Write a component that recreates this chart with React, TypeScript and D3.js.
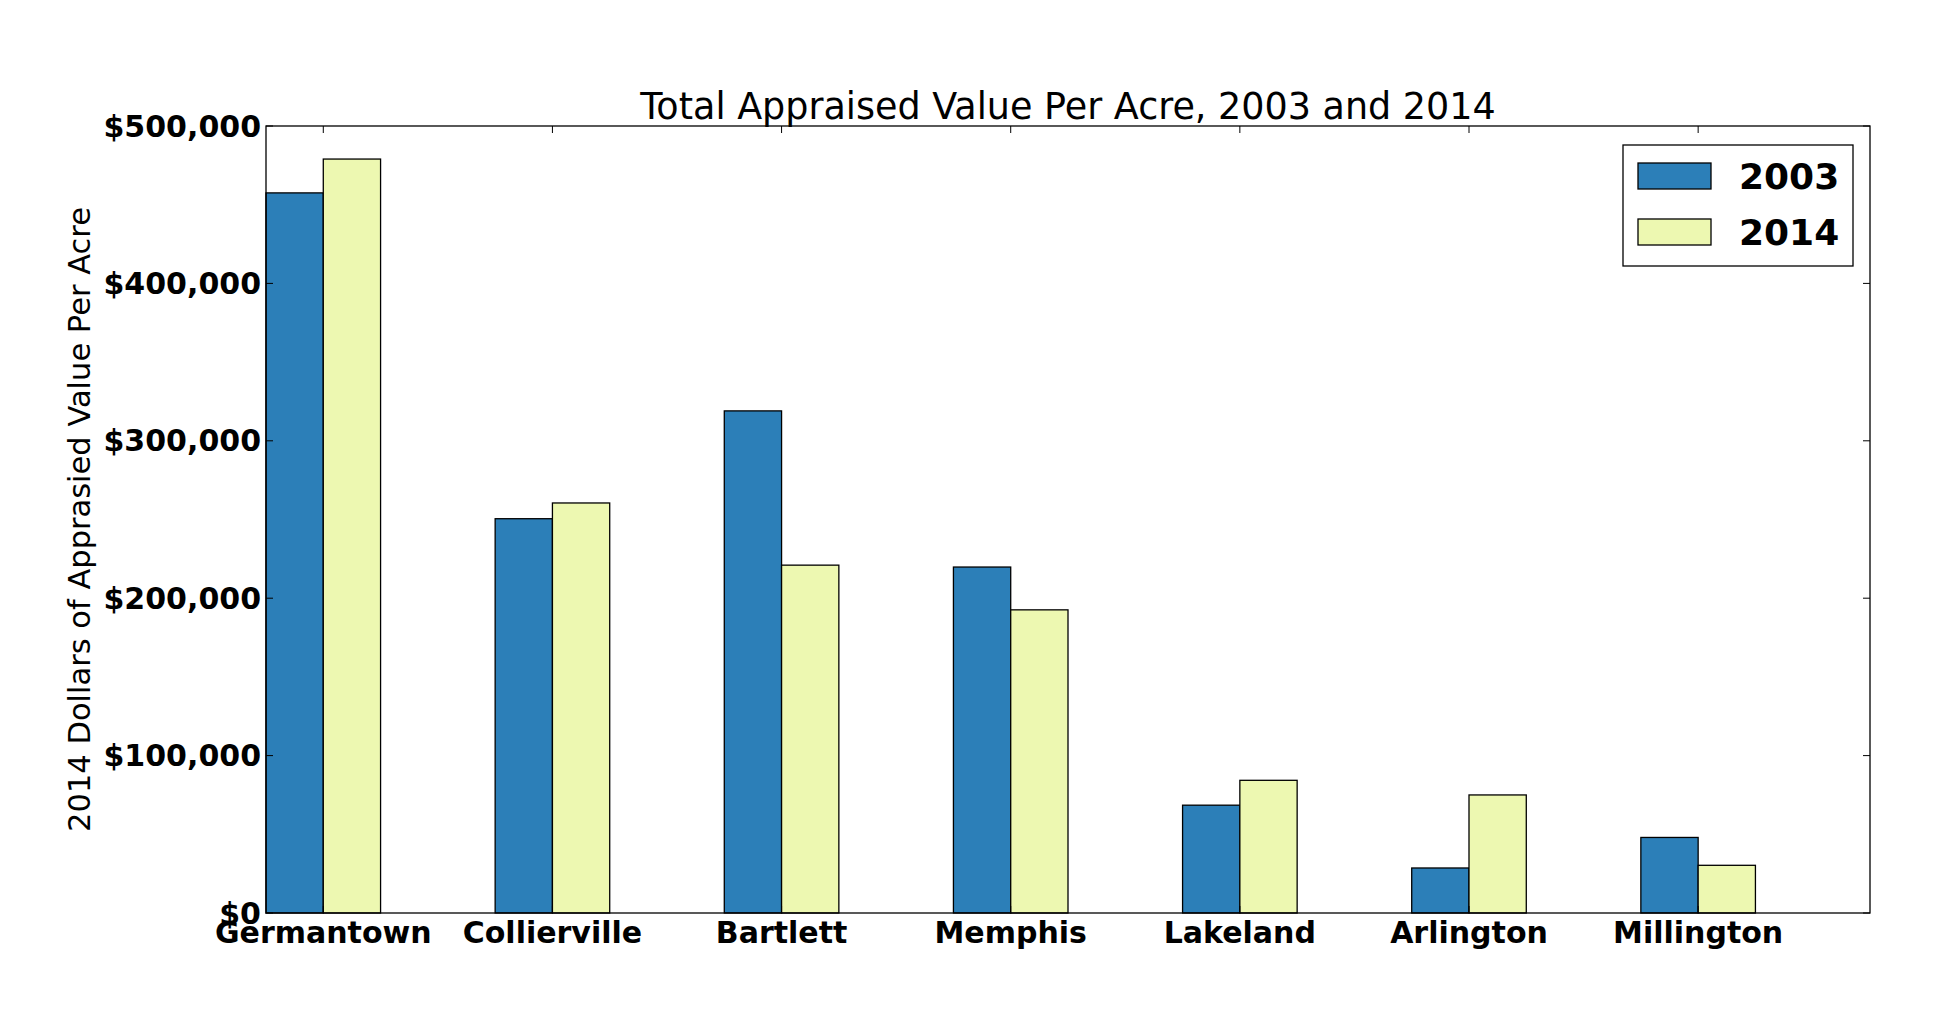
import { useEffect, useRef } from "react";
import * as d3 from "d3";

// Data
const towns = ["Germantown", "Collierville", "Bartlett", "Memphis", "Lakeland", "Arlington", "Millington"];
const values2003 = [457500, 250500, 319000, 219800, 68500, 28600, 48000];
const values2014 = [479000, 260500, 221000, 192600, 84300, 75000, 30300];
const seriesNames = ["2003", "2014"];
const seriesColors = ["#2c7fb8", "#edf8b1"];
const yTicks = [0, 100000, 200000, 300000, 400000, 500000];

const W = 1955;
const H = 1032;

export default function App() {
    const svgRef = useRef<SVGSVGElement | null>(null);

    useEffect(() => {
        if (!svgRef.current) return;
        const svg = d3.select(svgRef.current);
        svg.selectAll("*").remove();

        const margin = { top: 126, right: 85, bottom: 119, left: 266 };
        const width = W - margin.left - margin.right;
        const height = H - margin.top - margin.bottom;
        const font = "'DejaVu Sans', sans-serif";

        const g = svg.append("g").attr("transform", `translate(${margin.left},${margin.top})`);

        // x in category units, like matplotlib's bar positions
        const x = d3.scaleLinear().domain([-0.25, 6.75]).range([0, width]);
        const y = d3.scaleLinear().domain([0, 500000]).range([height, 0]);
        const barW = 0.25;

        const series = [values2003, values2014];
        series.forEach((vals, s) => {
            g.append("g")
                .selectAll("rect")
                .data(vals)
                .enter()
                .append("rect")
                .attr("x", (d, i) => x(i - barW + s * barW))
                .attr("width", x(barW) - x(0))
                .attr("y", d => y(d))
                .attr("height", d => y(0) - y(d))
                .attr("fill", seriesColors[s])
                .attr("stroke", "#000")
                .attr("stroke-width", 1.3);
        });

        // frame
        g.append("rect")
            .attr("width", width)
            .attr("height", height)
            .attr("fill", "none")
            .attr("stroke", "#000")
            .attr("stroke-width", 1.3);

        const tickLen = 7;
        // inside ticks on all four sides
        towns.forEach((t, i) => {
            g.append("line").attr("x1", x(i)).attr("x2", x(i)).attr("y1", height).attr("y2", height - tickLen).attr("stroke", "#000");
            g.append("line").attr("x1", x(i)).attr("x2", x(i)).attr("y1", 0).attr("y2", tickLen).attr("stroke", "#000");
            g.append("text")
                .attr("x", x(i))
                .attr("y", height + 30)
                .attr("text-anchor", "middle")
                .attr("font-family", font)
                .attr("font-weight", "bold")
                .attr("font-size", 30)
                .text(t);
        });

        const fmt = d3.format(",");
        yTicks.forEach(v => {
            g.append("line").attr("x1", 0).attr("x2", tickLen).attr("y1", y(v)).attr("y2", y(v)).attr("stroke", "#000");
            g.append("line").attr("x1", width).attr("x2", width - tickLen).attr("y1", y(v)).attr("y2", y(v)).attr("stroke", "#000");
            g.append("text")
                .attr("x", -5)
                .attr("y", y(v))
                .attr("dy", "0.35em")
                .attr("text-anchor", "end")
                .attr("font-family", font)
                .attr("font-weight", "bold")
                .attr("font-size", 30)
                .text("$" + fmt(v));
        });

        // title
        g.append("text")
            .attr("x", width / 2)
            .attr("y", -7)
            .attr("text-anchor", "middle")
            .attr("font-family", font)
            .attr("font-size", 36.5)
            .text("Total Appraised Value Per Acre, 2003 and 2014");

        // y label
        g.append("text")
            .attr("transform", `translate(${90 - margin.left},${height / 2}) rotate(-90)`)
            .attr("text-anchor", "middle")
            .attr("font-family", font)
            .attr("font-size", 30.5)
            .text("2014 Dollars of Apprasied Value Per Acre");

        // legend
        const lg = svg.append("g").attr("transform", "translate(1623,145)");
        lg.append("rect")
            .attr("width", 230)
            .attr("height", 121)
            .attr("fill", "#fff")
            .attr("stroke", "#000")
            .attr("stroke-width", 1.3);
        seriesNames.forEach((name, i) => {
            const row = lg.append("g").attr("transform", `translate(0,${18 + i * 56})`);
            row.append("rect")
                .attr("x", 15)
                .attr("width", 73)
                .attr("height", 26)
                .attr("fill", seriesColors[i])
                .attr("stroke", "#000")
                .attr("stroke-width", 1.3);
            row.append("text")
                .attr("x", 116)
                .attr("y", 13)
                .attr("dy", "0.35em")
                .attr("font-family", font)
                .attr("font-weight", "bold")
                .attr("font-size", 36)
                .text(name);
        });
    }, []);

    return (
        <div style={{ position: "absolute", left: 0, top: 0 }}>
            <svg ref={svgRef} width={W} height={H} style={{ display: "block", background: "#fff" }}></svg>
        </div>
    );
}
